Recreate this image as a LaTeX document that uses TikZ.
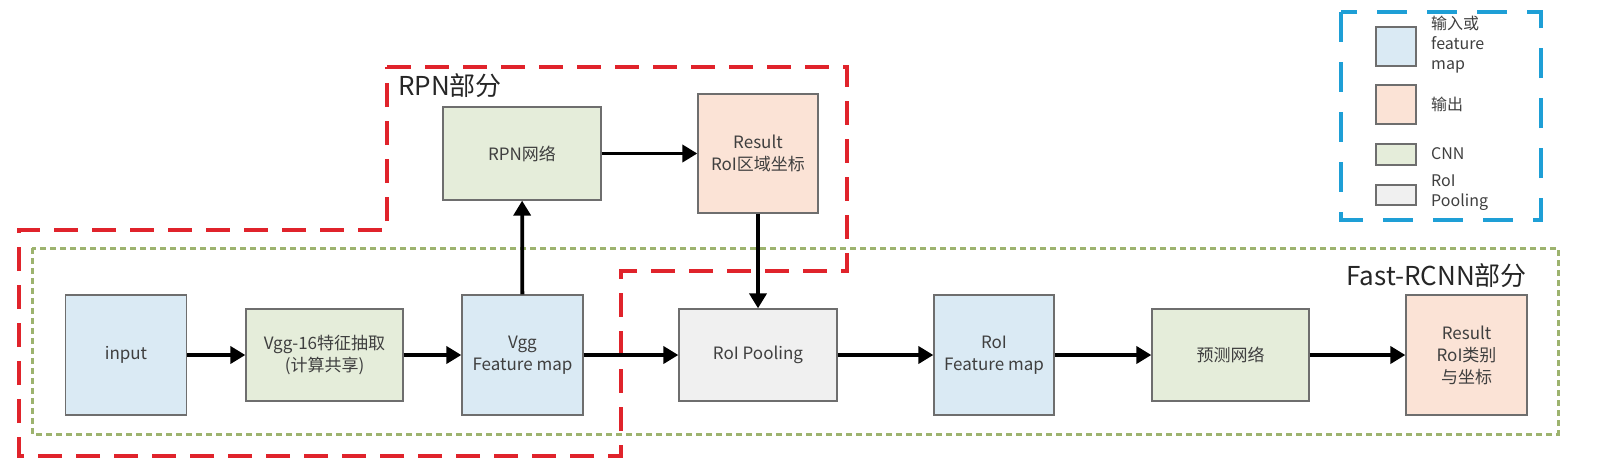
\documentclass[tikz,border=0pt]{standalone}
\usepackage{fontspec}
\setmainfont{Noto Sans CJK SC}
\usetikzlibrary{arrows.meta}
\definecolor{fmblue}{HTML}{DAEAF4}
\definecolor{outorange}{HTML}{FBE3D6}
\definecolor{cnngreen}{HTML}{E5EDDA}
\definecolor{poolgray}{HTML}{F0F0F0}
\definecolor{edgegray}{HTML}{6E6E6E}
\definecolor{txtgray}{HTML}{3F3F3F}
\definecolor{labelblack}{HTML}{262626}
\definecolor{rpnred}{HTML}{E0232B}
\definecolor{fastgreen}{HTML}{9DB36E}
\definecolor{legblue}{HTML}{1E9FD6}
\begin{document}
\begin{tikzpicture}[x=1pt,y=-1pt,
  blk/.style={draw=edgegray, line width=1.3pt, inner sep=0pt, align=center,
    text=txtgray, font=\fontsize{17}{22}\selectfont},
  bigbox/.style={blk, minimum width=121pt, minimum height=120pt},
  widebox/.style={blk, minimum width=157pt, minimum height=92pt},
  flow/.style={line width=3.8pt, -{Triangle[length=15pt,width=17pt]}},
  rpngroup/.style={draw=rpnred, line width=3.2pt, dash pattern=on 24pt off 14pt},
  fastgroup/.style={draw=fastgreen, line width=3pt, dash pattern=on 6pt off 4pt},
  leggroup/.style={draw=legblue, line width=4pt, dash pattern=on 30pt off 20pt},
  legsq/.style={draw=edgegray, line width=1.2pt, inner sep=0pt, minimum width=40pt},
  legtxt/.style={anchor=west, align=left, inner sep=0pt, text=txtgray,
    font=\fontsize{16}{20}\selectfont},
  grouplabel/.style={inner sep=0pt, text=labelblack, font=\fontsize{26}{30}\selectfont}
]
\useasboundingbox (0,0) rectangle (1608,475);

% group frames
\draw[fastgroup] (32,248) rectangle (1558,434);
\draw[rpngroup] (387,67) -- (847,67) -- (847,271) -- (621,271) -- (621,456)
  -- (19,456) -- (19,230) -- (387,230) -- cycle;
\draw[leggroup] (1341,12) rectangle (1541,220);

\node[grouplabel, anchor=base west] (rpnlabel) at (398,95) {RPN部分};
\node[grouplabel, anchor=base east] (fastlabel) at (1527,285) {Fast-RCNN部分};

% boxes
\node[bigbox, fill=fmblue] (input) at (126,355) {input};
\node[widebox, fill=cnngreen] (vgg) at (324.5,355) {Vgg-16特征抽取\\(计算共享)};
\node[bigbox, fill=fmblue] (vggfm) at (522.5,355) {Vgg\\Feature map};
\node[widebox, fill=poolgray, minimum width=158pt] (pool) at (758,355) {RoI Pooling};
\node[bigbox, fill=fmblue, minimum width=120pt] (roifm) at (994,355) {RoI\\Feature map};
\node[widebox, fill=cnngreen] (pred) at (1230.5,355) {预测网络};
\node[bigbox, fill=outorange] (res2) at (1466.5,355) {Result\\RoI类别\\与坐标};
\node[widebox, fill=cnngreen, minimum width=158pt, minimum height=93pt] (rpn) at (522,153.5) {RPN网络};
\node[bigbox, fill=outorange, minimum width=120pt, minimum height=119pt] (res1) at (758,153.5) {Result\\RoI区域坐标};

% connectors
\draw[flow] (input) -- (vgg);
\draw[flow] (vgg) -- (vggfm);
\draw[flow] (vggfm) -- (pool);
\draw[flow] (pool) -- (roifm);
\draw[flow] (roifm) -- (pred);
\draw[flow] (pred) -- (res2);
\draw[flow] (vggfm) -- (rpn);
\draw[flow] (rpn) -- (res1);
\draw[flow] (res1) -- (pool);

% legend
\node[legsq, fill=fmblue, minimum height=39pt] (lsq1) at (1396,46.5) {};
\node[legsq, fill=outorange, minimum height=39pt] (lsq2) at (1396,104.5) {};
\node[legsq, fill=cnngreen, minimum height=21pt] (lsq3) at (1396,154.5) {};
\node[legsq, fill=poolgray, minimum height=20pt] (lsq4) at (1396,195) {};
\node[legtxt] (ltxt1) at (1431,45) {输入或\\feature\\map};
\node[legtxt] (ltxt2) at (1431,104) {输出};
\node[legtxt] (ltxt3) at (1431,154) {CNN};
\node[legtxt] (ltxt4) at (1431,193) {RoI\\Pooling};
\end{tikzpicture}
\end{document}
